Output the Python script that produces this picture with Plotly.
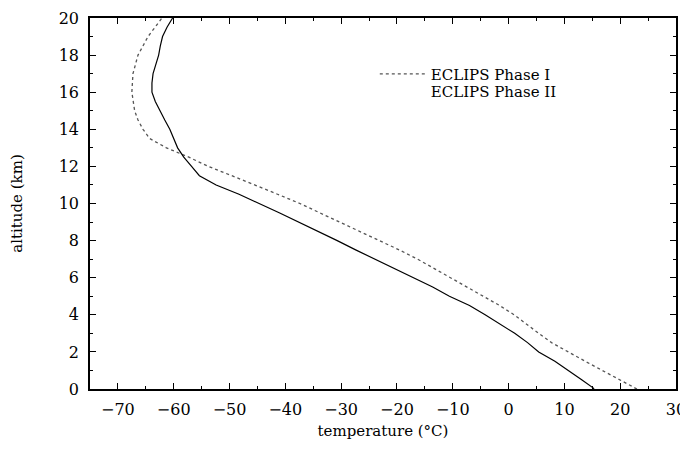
import plotly.graph_objects as go

# -------------------------
# Data (altitude in km, temperature in degC)
# -------------------------
alt_phase1 = [0, 0.5, 1, 1.5, 2, 2.5, 3, 3.5, 4, 4.5, 5, 5.5, 6, 6.5, 7, 7.5,
              8, 8.5, 9, 9.5, 10, 10.5, 11, 11.5, 12, 12.5, 13, 13.5, 14, 14.5,
              15, 16, 17, 18, 19, 20]
temp_phase1 = [23.0, 20.0, 16.8, 13.7, 10.7, 7.7, 5.4, 3.2, 1.0, -1.6, -4.5, -7.4,
               -10.4, -13.3, -16.3, -19.6, -23.1, -26.6, -30.2, -33.8, -37.4, -41.4,
               -45.4, -49.6, -53.8, -57.3, -61.3, -64.3, -65.5, -66.4, -67.0, -67.5,
               -67.3, -66.4, -64.6, -62.1]

alt_phase2 = [0, 0.05, 0.5, 1, 1.5, 2, 2.5, 3, 3.5, 4, 4.5, 5, 5.5, 6, 6.5, 7, 7.5,
              8, 8.5, 9, 9.5, 10, 10.5, 11, 11.5, 12, 12.5, 13, 13.5, 14, 14.5, 15,
              15.5, 16, 16.5, 17, 17.5, 18, 18.5, 19, 19.5, 20]
temp_phase2 = [15.3, 15.2, 13.1, 10.8, 8.3, 5.4, 3.4, 1.1, -1.5, -4.2, -7.0, -10.6,
               -13.6, -17.1, -20.7, -24.0, -27.4, -30.7, -34.1, -37.5, -41.1, -44.7,
               -48.3, -52.4, -55.4, -56.8, -58.2, -59.3, -60.0, -60.7, -61.6, -62.5,
               -63.3, -63.9, -63.9, -63.7, -63.2, -62.7, -62.4, -62.0, -61.2, -60.2]

FONT = "DejaVu Serif"

fig = go.Figure()

# Phase I: dotted
fig.add_trace(go.Scatter(
    x=temp_phase1, y=alt_phase1, mode="lines", name="ECLIPS Phase I",
    line=dict(color="#555555", width=1.3, dash="dot"), legend="legend"
))

# Phase II: solid (no visible legend sample in the original)
fig.add_trace(go.Scatter(
    x=temp_phase2, y=alt_phase2, mode="lines", name="ECLIPS Phase II",
    line=dict(color="black", width=1.2), showlegend=False
))
fig.add_trace(go.Scatter(
    x=[None], y=[None], mode="lines", name="ECLIPS Phase II",
    line=dict(color="white", width=0), legend="legend2"
))

axis_common = dict(
    showline=True, linecolor="black", linewidth=1.5, mirror="ticks",
    ticks="inside", tickcolor="black", ticklen=6, tickwidth=1,
    showgrid=False, zeroline=False, automargin=False,
    ticklabeloverflow="allow",
    tickfont=dict(family=FONT, size=16, color="black"),
)

legend_common = dict(
    xanchor="left", yanchor="top", bgcolor="rgba(0,0,0,0)", itemwidth=46,
    font=dict(family=FONT, size=15, color="black"),
)

fig.update_layout(
    width=680, height=442,
    margin=dict(l=82, r=12, t=10, b=61),
    paper_bgcolor="white", plot_bgcolor="white",
    font=dict(family=FONT, size=15, color="black"),
    xaxis=dict(
        range=[-75, 30], tick0=0, dtick=10, ticklabelstandoff=5,
        minor=dict(dtick=5, ticks="inside", ticklen=3, tickcolor="black"),
        title=dict(text="temperature (°C)", font=dict(family=FONT, size=15), standoff=8),
        **axis_common
    ),
    yaxis=dict(
        range=[0, 20], tick0=0, dtick=2, ticklabelstandoff=6,
        minor=dict(dtick=1, ticks="inside", ticklen=3, tickcolor="black"),
        title=dict(text="altitude (km)", font=dict(family=FONT, size=15), standoff=32),
        **axis_common
    ),
    legend=dict(x=0.486, y=0.893, **legend_common),
    legend2=dict(x=0.486, y=0.848, **legend_common),
    showlegend=True,
)

fig.write_html("out.html")
